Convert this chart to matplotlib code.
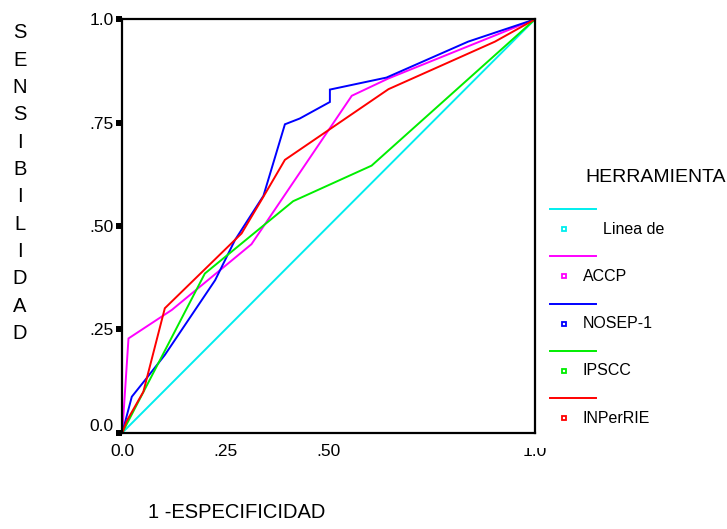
import matplotlib
matplotlib.use('Agg')
import matplotlib.pyplot as plt
from matplotlib.lines import Line2D
from matplotlib.transforms import Bbox, TransformedBbox, ScaledTranslation

plt.rcParams['font.family'] = ['Liberation Sans', 'DejaVu Sans']

# curvas ROC (1 - especificidad, sensibilidad)
ref_x = [0.0, 1.0]
ref_y = [0.0, 1.0]

accp_x = [0.0, 0.015, 0.12, 0.313, 0.556, 0.645, 1.0]
accp_y = [0.0, 0.228, 0.297, 0.456, 0.815, 0.857, 1.0]

nosep_x = [0.0, 0.023, 0.055, 0.103, 0.225, 0.273, 0.342, 0.394, 0.43, 0.503, 0.503, 0.64, 0.838, 1.0]
nosep_y = [0.0, 0.087, 0.127, 0.188, 0.369, 0.466, 0.573, 0.746, 0.76, 0.80, 0.83, 0.859, 0.946, 1.0]

ipscc_x = [0.0, 0.20, 0.414, 0.604, 1.0]
ipscc_y = [0.0, 0.385, 0.56, 0.646, 1.0]

inper_x = [0.0, 0.01, 0.051, 0.103, 0.289, 0.342, 0.394, 0.645, 0.903, 1.0]
inper_y = [0.0, 0.027, 0.099, 0.301, 0.482, 0.571, 0.66, 0.831, 0.946, 1.0]

names = ['Linea de', 'ACCP', 'NOSEP-1', 'IPSCC', 'INPerRIE']
colors = ['#00eeee', '#ff00ff', '#0000ff', '#00ee00', '#ff0000']
series = [(ref_x, ref_y), (accp_x, accp_y), (nosep_x, nosep_y),
          (ipscc_x, ipscc_y), (inper_x, inper_y)]

W, H = 727, 529
fig = plt.figure(figsize=(W / 100, H / 100), dpi=100)
ax = fig.add_axes([122.3 / W, 1 - 432.7 / H, 412.7 / W, 413.4 / H])

for (xs, ys), c in zip(series, colors):
    ax.plot(xs, ys, color=c, lw=1.4, solid_joinstyle='miter')

ax.set_xlim(0, 1)
ax.set_ylim(0, 1)
for s in ax.spines.values():
    s.set_linewidth(1.6)

ax.set_yticks([0, 0.25, 0.5, 0.75, 1.0])
ax.set_yticklabels(['0.0', '.25', '.50', '.75', '1.0'])
ax.set_xticks([0, 0.25, 0.5, 1.0])
ax.set_xticklabels(['0.0', '.25', '.50', '1.0'])
ax.tick_params(axis='y', direction='out', length=4.5, width=4.3, pad=1.5, labelsize=12.5)
ax.tick_params(axis='x', length=0, pad=8, labelsize=12.5)

# el "0.0" del eje y queda un poco por encima de su marca
lab0 = ax.get_yticklabels()[0]
lab0.set_transform(lab0.get_transform() + ScaledTranslation(0, 0.08, fig.dpi_scale_trans))

# el "1.0" del eje x aparece recortado por arriba
lab = ax.get_xticklabels()[-1]
lab.set_clip_box(TransformedBbox(Bbox.from_extents(0, 0, 1, (H - 448) / H), fig.transFigure))

# titulos de ejes
fig.text(148 / W, 1 - 512 / H, '1 -ESPECIFICIDAD', fontsize=14.5, va='center', ha='left')
letters = 'SENSIBILIDAD'
for i, ch in enumerate(letters):
    fig.text(20 / W, 1 - (33 + i * 27.3) / H, ch, fontsize=14.5, va='center', ha='center')

# leyenda manual
fig.text(585 / W, 1 - 177 / H, 'HERRAMIENTA', fontsize=14, va='center', ha='left')
for i, (name, c) in enumerate(zip(names, colors)):
    yl = 209 + 47.3 * i
    ym = 229 + 47.3 * i
    fig.add_artist(Line2D([550 / W, 596 / W], [1 - yl / H, 1 - yl / H], color=c, lw=1.4,
                          transform=fig.transFigure))
    fig.add_artist(Line2D([564 / W], [1 - ym / H], marker='s', markersize=3.5,
                          mfc='white', mec=c, mew=1.3, transform=fig.transFigure))
    tx = 603 if i == 0 else 583
    fig.text(tx / W, 1 - ym / H, name, fontsize=11.5, va='center', ha='left')

fig.savefig('out.png', dpi=100)
